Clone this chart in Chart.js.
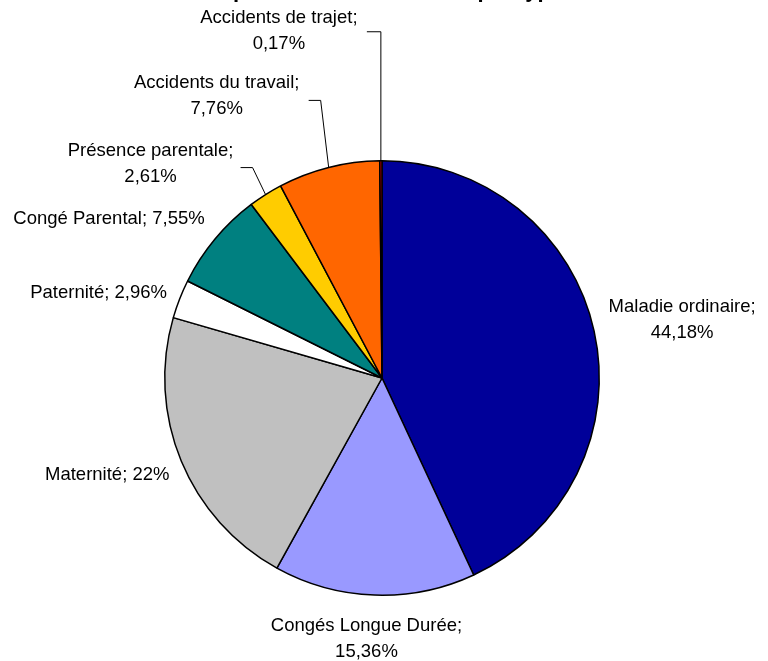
<!DOCTYPE html>
<html>
<head>
<meta charset="utf-8">
<script src="https://cdn.jsdelivr.net/npm/chart.js@4"></script>
<style>
  html, body { margin: 0; padding: 0; background: #fff; }
  #wrap { width: 768px; height: 661px; }
</style>
</head>
<body>
<div id="wrap"><canvas id="pieChart" width="768" height="661"></canvas></div>
<script>
// Données du graphique
const categories = [
    'Maladie ordinaire',
    'Congés Longue Durée',
    'Maternité',
    'Paternité',
    'Congé Parental',
    'Présence parentale',
    'Accidents du travail',
    'Accidents de trajet'
];
const values = [44.18, 15.36, 22, 2.96, 7.55, 2.61, 7.76, 0.17];
const valueLabels = ['44,18%', '15,36%', '22%', '2,96%', '7,55%', '2,61%', '7,76%', '0,17%'];
const sliceColors = ['#000099', '#9999FF', '#C0C0C0', '#FFFFFF', '#008080', '#FFCC00', '#FF6600', '#D40000'];

const chartTitle = 'Répartition des absences par type';

// Placement des étiquettes (décalage par rapport au milieu de l'arc extérieur)
const labelLayout = [
    { dx: 88,   dy: -11,  twoLines: true },
    { dx: -8,   dy: 44,   twoLines: true },
    { dx: -74,  dy: 14,   twoLines: false },
    { dx: -81,  dy: -6,   twoLines: false },
    { dx: -106, dy: -20,  twoLines: false },
    { dx: -115, dy: -31,  twoLines: true, leader: [[-13, -27], [-25, -27]] },
    { dx: -112, dy: -71,  twoLines: true, leader: [[-8, -67], [-20, -67]] },
    { dx: -102, dy: -130, twoLines: true, leader: [[0, -129], [-14, -129]] }
];

const FONT = '"Liberation Sans", Arial, sans-serif';

// Plugin : étiquettes façon Excel + titre
const excelLabels = {
    id: 'excelLabels',
    afterDatasetsDraw(chart) {
        const ctx = chart.ctx;
        const meta = chart.getDatasetMeta(0);
        ctx.save();
        ctx.font = '18.5px ' + FONT;
        ctx.fillStyle = '#000';
        ctx.textAlign = 'center';
        ctx.textBaseline = 'middle';

        meta.data.forEach((arc, i) => {
            const p = arc.getProps(['x', 'y', 'startAngle', 'endAngle', 'outerRadius'], true);
            const mid = (p.startAngle + p.endAngle) / 2;
            const ax = p.x + Math.cos(mid) * p.outerRadius;
            const ay = p.y + Math.sin(mid) * p.outerRadius;
            const lay = labelLayout[i];

            if (lay.leader) {
                ctx.beginPath();
                ctx.strokeStyle = '#000';
                ctx.lineWidth = 1;
                ctx.moveTo(ax, ay);
                lay.leader.forEach(pt => ctx.lineTo(ax + pt[0], ay + pt[1]));
                ctx.stroke();
            }

            const cx = ax + lay.dx;
            const cy = ay + lay.dy;
            if (lay.twoLines) {
                ctx.fillText(categories[i] + ';', cx, cy - 13);
                ctx.fillText(valueLabels[i], cx, cy + 13);
            } else {
                ctx.fillText(categories[i] + '; ' + valueLabels[i], cx, cy);
            }
        });

        // Titre (coupé en haut de l'image, seuls les jambages dépassent)
        ctx.font = 'bold 22px ' + FONT;
        ctx.textBaseline = 'alphabetic';
        ctx.fillText(chartTitle, chart.width / 2, -3.5);
        ctx.restore();
    }
};

const ctx = document.getElementById('pieChart').getContext('2d');
new Chart(ctx, {
    type: 'pie',
    data: {
        labels: categories,
        datasets: [{
            data: values,
            backgroundColor: sliceColors,
            borderColor: '#000',
            borderWidth: 1.5
        }]
    },
    options: {
        responsive: false,
        animation: false,
        layout: {
            padding: { top: 160, bottom: 65, left: 150, right: 154 }
        },
        plugins: {
            legend: { display: false },
            tooltip: { enabled: false },
            title: { display: false }
        }
    },
    plugins: [excelLabels]
});
</script>
</body>
</html>
